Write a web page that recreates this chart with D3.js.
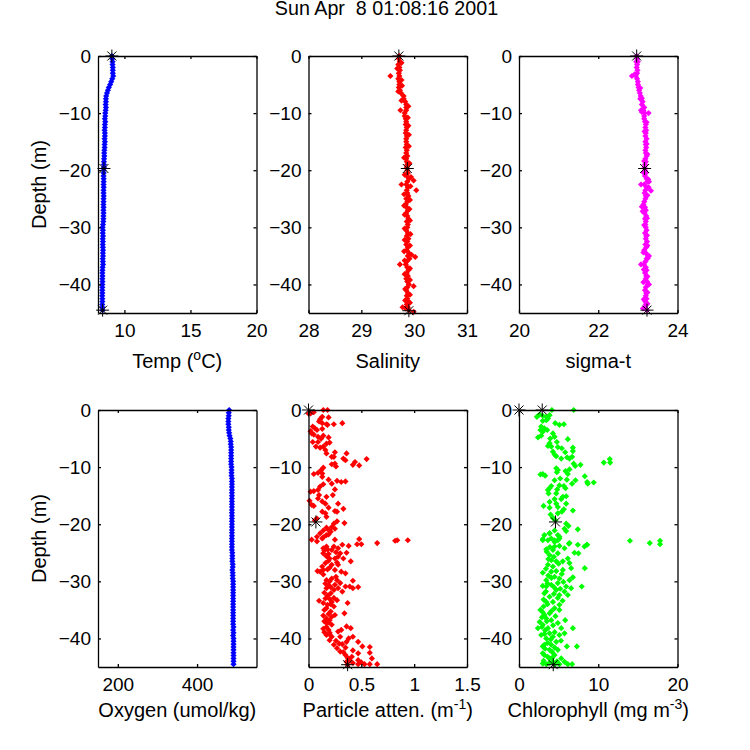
<!DOCTYPE html>
<html>
<head>
<meta charset="utf-8">
<script src="https://cdn.jsdelivr.net/npm/d3@7"></script>
<style>
  body { margin: 0; background: #fff; }
  text { font-family: "Liberation Sans", Arial, sans-serif; fill: #000; }
</style>
</head>
<body>
<svg id="chart" width="750" height="750"></svg>
<script>
// depth of the four continuous profiles (m)
const profileDepth = [0,-0.5,-1,-1.5,-2,-2.5,-3,-3.5,-4,-4.5,-5,-5.5,-6,-6.5,-7,-7.5,-8,-8.5,-9,-9.5,
  -10,-10.5,-11,-11.5,-12,-12.5,-13,-13.5,-14,-14.5,-15,-15.5,-16,-16.5,-17,-17.5,-18,-18.5,-19,-19.5,
  -20,-20.5,-21,-21.5,-22,-22.5,-23,-23.5,-24,-24.5,-25,-25.5,-26,-26.5,-27,-27.5,-28,-28.5,-29,-29.5,
  -30,-30.5,-31,-31.5,-32,-32.5,-33,-33.5,-34,-34.5,-35,-35.5,-36,-36.5,-37,-37.5,-38,-38.5,-39,-39.5,
  -40,-40.5,-41,-41.5,-42,-42.5,-43,-43.5,-44,-44.5];

const tempValues = [9.05,9.08,9.1,9.1,9.12,9.12,9.12,9.15,9.08,9.0,8.92,8.82,8.75,8.68,8.62,8.6,8.6,8.58,8.6,8.58,
  8.55,8.55,8.52,8.55,8.52,8.52,8.5,8.52,8.52,8.5,8.52,8.5,8.5,8.48,8.47,8.48,8.46,8.45,8.45,8.45,
  8.43,8.43,8.42,8.43,8.43,8.42,8.43,8.42,8.42,8.43,8.42,8.42,8.41,8.42,8.41,8.42,8.41,8.41,8.4,8.38,
  8.35,8.37,8.36,8.38,8.36,8.37,8.36,8.37,8.38,8.37,8.38,8.36,8.37,8.38,8.35,8.34,8.33,8.34,8.33,8.34,
  8.33,8.33,8.32,8.33,8.32,8.33,8.33,8.32,8.33,8.35];

const salinityValues = [29.72,29.71,29.73,29.7,29.72,29.73,29.71,29.72,29.7,29.72,29.72,29.71,29.73,29.75,29.8,29.8,29.83,29.85,29.85,29.85,
  29.82,29.82,29.84,29.85,29.84,29.86,29.85,29.84,29.86,29.85,29.85,29.86,29.84,29.86,29.85,29.87,29.85,29.86,29.87,29.86,
  29.87,29.88,29.86,29.9,29.87,29.85,29.88,29.86,29.87,29.89,29.85,29.87,29.84,29.86,29.88,29.85,29.87,29.89,29.86,29.88,
  29.87,29.85,29.88,29.86,29.89,29.87,29.85,29.88,29.86,29.9,29.88,29.91,29.86,29.84,29.87,29.89,29.86,29.88,29.85,29.87,
  29.9,29.87,29.85,29.88,29.86,29.87,29.89,29.86,29.88,29.9];
const salinityExtra = [[-3.5,29.55],[-9.5,29.74],[-22.5,29.76],[-23.5,30.04],[-21.8,29.99],[-35.2,30.02],[-36.5,29.73],[-40.3,29.99],[-44,29.78],[-44.8,29.99],
  [-1.2,29.76],[-2.2,29.68],[-4.2,29.76],[-5.2,29.77],[-6.2,29.7],[-7.8,29.76],[-8.8,29.89],[-10.8,29.88],[-12.2,29.89],[-13.8,29.9],
  [-15.8,29.9],[-17.8,29.81],[-18.8,29.91],[-20.8,29.82],[-21.2,29.94],[-22.8,29.93],[-24.2,29.81],[-25.2,29.92],[-26.2,29.81],[-26.8,29.91],
  [-27.8,29.82],[-28.8,29.92],[-30.2,29.82],[-31.2,29.93],[-32.2,29.82],[-33.2,29.92],[-34.2,29.81],[-34.8,29.95],[-35.8,29.82],[-37.2,29.92],
  [-38.2,29.82],[-39.2,29.92],[-40.8,29.83],[-41.8,29.92],[-42.8,29.83],[-43.2,29.92],[-44.2,29.84]];

const sigmaValues = [22.97,22.98,22.96,22.98,22.97,22.99,22.98,22.95,22.98,23.0,23.0,23.02,23.03,23.05,23.07,23.06,23.12,23.1,23.16,23.14,
  23.17,23.16,23.16,23.18,23.2,23.19,23.21,23.2,23.19,23.22,23.19,23.2,23.21,23.19,23.2,23.22,23.19,23.2,23.18,23.17,
  23.18,23.2,23.18,23.22,23.24,23.16,23.22,23.19,23.17,23.2,23.19,23.16,23.14,23.18,23.2,23.17,23.21,23.18,23.2,23.19,
  23.2,23.22,23.18,23.21,23.2,23.23,23.19,23.21,23.16,23.2,23.25,23.22,23.19,23.15,23.2,23.22,23.18,23.21,23.2,23.23,
  23.25,23.2,23.18,23.21,23.2,23.22,23.19,23.2,23.18,23.23];
const sigmaExtra = [[-3.5,22.85],[-3.2,22.92],[-9.5,23.08],[-9.8,23.1],[-10,23.27],[-22,23.28],[-21.6,23.26],[-22.5,23.08],[-23.6,23.33],[-23,23.27],
  [-35,23.28],[-35.4,23.25],[-36.5,23.08],[-40,23.28],[-44.2,23.13],[-1,23.0],[-5.6,23.06],[-7.4,23.1],[-11.6,23.22],[-13.2,23.17],
  [-15.4,23.22],[-17.2,23.24],[-18.4,23.16],[-20.4,23.14],[-24.4,23.24],[-26.4,23.1],[-27.2,23.12],[-28.4,23.23],[-29.6,23.16],[-31.4,23.23],
  [-33.2,23.24],[-34.4,23.14],[-37.4,23.15],[-38.6,23.24],[-39.6,23.14],[-41.4,23.24],[-42.6,23.15],[-43.4,23.24]];

const oxygenValues = [481,480,480,479,479,479,480,480,481,482,484,485,485,486,486,486,486,486,486,486,
  487,487,487,487,488,488,488,488,488,488,488,488,488,488,488,488,488,488,488,488,
  488,488,488,488,488,488,488,488,488,488,489,489,489,489,490,490,489,490,490,490,
  491,491,491,491,491,491,491,491,491,491,491,491,491,491,491,491,492,491,492,491,
  492,492,492,492,492,492,492,492,492,492];

// [depth, value] samples of the two scattered profiles
const particleSamples = [[-0.6,0],[-0.6,0.02],[-0.4,0.05],[0,0.14],[0,0.18],[-1.3,0.19],[-1.2,0.13],[-1.6,0.11],[-2,0.1],[-2.3,0.13],
  [-2.5,0.17],[-2.6,0.18],[-2.5,0.24],[-2.3,0.32],[-2.9,0.04],[-3.2,0.06],[-3.7,0.02],[-4.1,0.03],[-4.3,0.05],[-3.5,0.08],
  [-3.3,0.13],[-4.7,0.09],[-5,0.12],[-4.5,0.14],[-4.8,0.19],[-5.6,0.04],[-5.6,0.09],[-5.9,0.17],[-5.7,0.2],[-6.4,0.07],
  [-6.6,0.11],[-6.4,0.14],[-7,0.16],[-7.6,0.17],[-7.4,0.25],[-7.6,0.36],[-8.2,0.22],[-8.2,0.24],[-8.5,0.33],[-8.8,0.35],
  [-8.6,0.55],[-9.1,0.44],[-9.6,0.42],[-9.7,0.48],[-9.5,0.22],[-9.4,0.25],[-9.9,0.26],[-10.1,0.14],[-10.5,0.12],[-11,0.09],
  [-11.2,0.05],[-11.1,0.13],[-11.7,0.13],[-12.2,0.19],[-12.9,0.22],[-12.4,0.27],[-12.6,0.31],[-12.5,0.35],[-13,0.14],[-13.4,0.11],
  [-14,0.09],[-14.2,0.05],[-14.3,0.02],[-13.9,0.25],[-14.9,0.23],[-15.2,0.17],[-14.9,0.1],[-15.5,0.09],[-16,0.13],[-16.4,0.16],
  [-15.9,0.01],[-16.6,0.03],[-16.8,0.05],[-17.1,0.19],[-16.4,0.28],[-17.3,0.33],[-17.7,0.25],[-17.8,0.27],[-17.8,0.13],[-18.1,0.16],
  [-18.7,0.17],[-19,0.08],[-19.3,0.06],[-19.9,0.24],[-19.5,0.27],[-19.8,0.34],[-20.5,0.22],[-21.3,0.21],[-20.8,0.25],[-21.1,0.14],
  [-21.6,0.11],[-22.2,0.08],[-22.7,0.03],[-22.5,0.13],[-21.9,0.17],[-22.7,0.25],[-22.6,0.48],[-23.5,0.46],[-23.5,0.5],[-23.3,0.65],
  [-22.9,0.82],[-22.8,0.84],[-22.8,0.94],[-23.6,0.32],[-23.8,0.38],[-24.2,0.14],[-23.9,0.17],[-23.9,0.24],[-24.2,0.28],[-25,0.36],
  [-25.1,0.14],[-25.2,0.19],[-24.5,0.22],[-25.1,0.3],[-26,0.25],[-26,0.2],[-26,0.33],[-26.5,0.4],[-26.8,0.16],[-27.4,0.13],
  [-28.3,0.11],[-28.2,0.085],[-28,0.14],[-27.1,0.22],[-27.1,0.28],[-28,0.25],[-28.3,0.31],[-28.6,0.35],[-29.8,0.17],[-29.5,0.22],
  [-29.8,0.27],[-30.3,0.3],[-29.9,0.42],[-30.6,0.25],[-30.9,0.35],[-30.9,0.39],[-31,0.47],[-31.2,0.42],[-31.2,0.17],[-31.5,0.24],
  [-31.2,0.28],[-31.8,0.32],[-32.1,0.21],[-33,0.16],[-33.4,0.1],[-33.8,0.14],[-33.6,0.22],[-33.3,0.27],[-33.8,0.37],[-34.7,0.17],
  [-34.4,0.24],[-35.3,0.21],[-35.6,0.34],[-36.5,0.17],[-36.2,0.22],[-35.9,0.25],[-37.3,0.17],[-37.6,0.22],[-38.5,0.19],[-39.4,0.17],
  [-39.7,0.22],[-38.8,0.28],[-38.5,0.31],[-37.9,0.36],[-38.2,0.4],[-39.7,0.3],[-40,0.38],[-39.7,0.42],[-40.6,0.36],[-40.6,0.47],
  [-41.1,0.24],[-41.7,0.27],[-42.3,0.3],[-42.9,0.35],[-41.4,0.51],[-41.5,0.58],[-42.5,0.58],[-42.6,0.47],[-43.5,0.6],[-43.8,0.39],
  [-43.8,0.47],[-44.1,0.36],[-44.6,0.37],[-44.5,0.47],[-44.5,0.53],[-44.5,0.58],[-44.5,0.65],
  [-24.6,0.15],[-25.6,0.17],[-26.4,0.19],[-26.7,0.27],[-27.6,0.2],[-24.9,0.26],[-25.7,0.28],[-27.9,0.18],[-30,0.2],[-30.4,0.16],
  [-31,0.21],[-32.5,0.18],[-32.9,0.24],[-33.1,0.2],[-34.1,0.18],[-35,0.15],[-35.7,0.19],[-36.8,0.2],[-37,0.15],[-38,0.17],
  [-38.9,0.15],[-39,0.2],[-40.3,0.2],[-40.4,0.26],[-41.6,0.35],[-41,0.32],[-43.2,0.41],[-42.1,0.42],[-44.2,0.5],[-44.3,0.42],
  [-23,0.08],[-22.3,0.14],[-21.8,0.19],[-21,0.19],[-20.6,0.17],[-24.4,0.18],[-28.8,0.14],[-29.2,0.26],[-30.7,0.19],[-32,0.15],
  [-34,0.21],[-36,0.14],[-37.2,0.19],[-38.3,0.14],[-39.3,0.2],[-40.9,0.29],[-42.4,0.33],[-43.4,0.37]];

const chlorophyllSamples = [[0,4.15],[0,6.9],[-1.2,2.26],[-0.8,2.6],[-1,3],[-1.2,3.44],[-0.9,3.86],[-1.9,3],[-1.8,3.44],[-1.5,3.65],
  [-2.3,4.57],[-2.6,5.1],[-2.5,5.66],[-2.9,2.8],[-3.2,3.2],[-3.5,3.56],[-3.5,2.7],[-3.8,3],[-4.8,2.4],[-4.5,2.8],
  [-4.1,4.28],[-4.7,4.49],[-5,3.94],[-5.1,6.16],[-5.6,4.78],[-5.8,3.86],[-6.3,3.65],[-6.4,4.07],[-6.5,4.9],[-6.7,5.4],
  [-6.6,6.8],[-7.2,6.8],[-7.3,4.28],[-7.8,4.49],[-7.4,5.83],[-8.1,4.7],[-8.5,5.33],[-8.3,6.08],[-8.5,6.37],[-8.2,6.7],
  [-9.2,10.7],[-8.6,11.45],[-9.2,11.5],[-9.4,6.9],[-9.8,7.1],[-9.6,7.76],[-10.2,4.7],[-10.5,4.9],[-10.7,5.87],[-10.4,6.37],
  [-10.9,4.78],[-11.2,6.16],[-11.3,2.7],[-11.2,3],[-11.5,3.3],[-11.6,8.3],[-12,5.2],[-12.3,4.49],[-12.2,6.04],[-12.3,7.13],
  [-12.9,6.7],[-12.6,8.6],[-12.9,8.68],[-12.7,9.43],[-13.3,4.07],[-13.7,3.86],[-14,3.65],[-14.6,3.73],[-13.2,5.1],[-13.3,5.66],
  [-13.7,5.87],[-13.9,4.82],[-14.6,4.7],[-15.2,5.53],[-15.1,5.95],[-15.6,5.33],[-15.6,4.49],[-16.1,3.86],[-16.4,4.7],[-16.4,5.95],
  [-16.8,3.1],[-17.1,3.86],[-17,4.9],[-17.4,5.66],[-17.6,6.8],[-17.8,5.4],[-18.3,3.98],[-18.1,4.9],[-18.9,4.28],[-19.3,4.6],
  [-19.9,5.95],[-20.3,6.25],[-20.8,5.74],[-21.2,5.95],[-20.9,7.42],[-21.1,4.49],[-21.6,3.86],[-21.9,3.2],[-22.6,3],[-21.9,4.9],
  [-22.5,5.1],[-22.5,4.07],[-23.1,4.49],[-22.9,14],[-23.4,6.3],[-23.6,8.55],[-22.8,3],[-21.6,3.86],[-22.2,5.1],[-22.8,3.65],
  [-22.8,4.49],[-22.8,4.9],[-23.3,16.5],[-22.9,17.8],[-23.5,17.8],[-23.3,6.37],[-23.6,7.42],[-23.6,8.6],[-23.9,8.26],[-24.4,3.44],
  [-23.9,4.49],[-23.8,5.1],[-24.5,4.28],[-25.1,4.9],[-25.4,3.86],[-24.2,5.74],[-25,7],[-25.1,7.5],[-26,6.16],[-26.5,5.53],
  [-26.3,4.07],[-26.5,4.7],[-27.1,3.65],[-27.4,4.28],[-26.8,6.37],[-27.7,6.58],[-27.7,8.3],[-28.5,3],[-29.8,3.44],[-28.3,4.07],
  [-29.2,4.49],[-29.5,5.1],[-28,5.53],[-29.3,6.8],[-29.8,6.37],[-30.8,3],[-30.9,3.44],[-30.9,7.92],[-30.6,4.07],[-30.3,4.9],
  [-31.5,4.7],[-30.9,5.95],[-31.2,6.58],[-32.4,6.16],[-32.1,3.2],[-32.7,3.86],[-32.4,5.1],[-31.8,5.74],[-33.6,3.44],[-33.6,4.28],
  [-34.1,5.1],[-34.7,4.49],[-35,2.7],[-35.9,3.2],[-35.6,3.86],[-35,5.1],[-36.5,3.44],[-36.8,4.07],[-37.1,2.6],[-38.2,2.39],
  [-37.6,3],[-38.2,3.65],[-36.8,5.83],[-37.3,4.9],[-38.2,6.8],[-38.2,5.33],[-39.4,2.8],[-39.1,3.86],[-39.7,4.28],[-39.4,5.1],
  [-39.1,5.74],[-40,3.44],[-40.6,4.7],[-41.1,3.2],[-41.1,4.07],[-41.4,3],[-41.4,6.04],[-41.4,7.3],[-42,3.86],[-42,4.9],
  [-42.9,3.2],[-42.9,4.49],[-43.5,5.33],[-44.4,3],[-44.5,3.44],[-44.1,4.28],[-44.5,5.1],[-44.1,5.74],[-44.5,6.16],[-44.5,6.7],
  [-43.5,3.86],[-24,3.9],[-24.8,3.5],[-25.7,4.4],[-26.1,3.7],[-26.9,5],[-27.8,3.4],[-28.2,4.7],[-28.7,5.4],[-29,3.7],
  [-29.4,4.1],[-30.1,5.6],[-30.4,3.6],[-31,4.4],[-31.3,5.2],[-31.8,3.4],[-32.2,4.4],[-32.9,4.9],[-33.2,3.1],[-33.4,5.5],
  [-34,3.6],[-34.4,3.1],[-35.2,4.1],[-35.4,3],[-36.1,4.6],[-36.3,2.9],[-37,3.5],[-37.7,4.3],[-38,2.9],[-38.6,3.3],
  [-38.9,4.5],[-39.2,3.2],[-40.2,4],[-40.4,5.3],[-40.8,3.6],[-41.6,4.5],[-41.8,3.3],[-42.4,4.2],[-42.6,3],[-43.2,3.6],
  [-43.4,4.2],[-43.9,3.1],[-44,4.8],[-44.3,3.8],[-44.5,4.5]];

// black asterisks: [depth, value]
const tempStars = [[0,9.05],[-19.7,8.45],[-44.5,8.35]];
const salinityStars = [[0,29.71],[-19.7,29.87],[-44.6,29.9]];
const sigmaStars = [[0,22.97],[-19.7,23.17],[-44.5,23.23]];
const particleStars = [[0,0],[-19.6,0.07],[-44.6,0.37]];
const chlorophyllStars = [[0,0],[0,2.93],[-19.6,4.6],[-44.6,4.32]];

const depthTicks = [0,-10,-20,-30,-40];
const tempTicks = [10,15,20];
const salinityTicks = [28,29,30,31];
const sigmaTicks = [20,22,24];
const oxygenTicks = [200,400];
const particleTicks = [0,0.5,1,1.5];
const chlorophyllTicks = [0,10,20];

const pairs = vals => vals.map((v, i) => [profileDepth[i], v]);

const panels = [
  { col: 0, row: 0, domain: [8,20], ticks: tempTicks, color: "#0000ff", samples: pairs(tempValues), stars: tempStars, label: ["Temp (", "o", "C)"] },
  { col: 1, row: 0, domain: [28,31], ticks: salinityTicks, color: "#ff0000", samples: pairs(salinityValues).concat(salinityExtra), stars: salinityStars, label: ["Salinity"] },
  { col: 2, row: 0, domain: [20,24], ticks: sigmaTicks, color: "#ff00ff", samples: pairs(sigmaValues).concat(sigmaExtra), stars: sigmaStars, label: ["sigma-t"] },
  { col: 0, row: 1, domain: [150,550], ticks: oxygenTicks, color: "#0000ff", samples: pairs(oxygenValues), stars: [], label: ["Oxygen (umol/kg)"] },
  { col: 1, row: 1, domain: [0,1.5], ticks: particleTicks, color: "#ff0000", samples: particleSamples, stars: particleStars, label: ["Particle atten. (m", "-1", ")"] },
  { col: 2, row: 1, domain: [0,20], ticks: chlorophyllTicks, color: "#00ff00", samples: chlorophyllSamples, stars: chlorophyllStars, label: ["Chlorophyll (mg m", "-3", ")"] }
];

const colX = [98, 308.5, 519], rowY = [56, 410];
const w = 158.5, h = 257;

const svg = d3.select("#chart");

svg.append("text").attr("x", 386.5).attr("y", 15)
  .attr("text-anchor", "middle").attr("font-size", 19.7).attr("xml:space", "preserve")
  .text("Sun Apr  8 01:08:16 2001");

const dot = d3.symbol().type(d3.symbolSquare).size(19)();
const star = "M-6.5,0H6.5M0,-6.5V6.5M-4.5,-4.5L4.5,4.5M-4.5,4.5L4.5,-4.5";

panels.forEach(p => {
  const g = svg.append("g").attr("transform", `translate(${colX[p.col]},${rowY[p.row]})`);
  const x = d3.scaleLinear().domain(p.domain).range([0, w]);
  const y = d3.scaleLinear().domain([0, -45]).range([0, h]);

  g.selectAll("path.pt").data(p.samples).join("path")
    .attr("class", "pt")
    .attr("d", dot)
    .attr("fill", p.color)
    .attr("transform", d => `translate(${x(d[1])},${y(d[0])}) rotate(45)`);

  // box with inward ticks on all four sides
  const axes = [
    d3.axisBottom(x).tickValues(p.ticks).tickFormat(d3.format("")).tickSizeOuter(0).tickSizeInner(-3).tickPadding(11),
    d3.axisTop(x).tickValues(p.ticks).tickFormat("").tickSizeOuter(0).tickSizeInner(-3),
    d3.axisLeft(y).tickValues(depthTicks).tickFormat(d3.format("")).tickSizeOuter(0).tickSizeInner(-3).tickPadding(7),
    d3.axisRight(y).tickValues(depthTicks).tickFormat("").tickSizeOuter(0).tickSizeInner(-3)
  ];
  const place = [`translate(0,${h})`, null, null, `translate(${w},0)`];
  axes.forEach((a, i) => {
    const ag = g.append("g").attr("transform", place[i]).call(a);
    ag.selectAll("text").attr("font-size", 19).attr("fill", "#000");
    ag.selectAll("path,line").attr("stroke", "#000").attr("stroke-width", 1.3);
  });

  g.selectAll("path.star").data(p.stars).join("path")
    .attr("class", "star")
    .attr("d", star)
    .attr("fill", "none").attr("stroke", "#000").attr("stroke-width", 1)
    .attr("transform", d => `translate(${x(d[1])},${y(d[0])})`);

  const t = g.append("text").attr("x", w / 2).attr("y", h + (p.row ? 50 : 55))
    .attr("text-anchor", "middle").attr("font-size", 20);
  p.label.forEach((s, i) => {
    const ts = t.append("tspan").text(s);
    if (i === 1) ts.attr("dy", -8).attr("font-size", 14);
    if (i === 2) ts.attr("dy", 8);
  });

  if (p.col === 0) {
    g.append("text").attr("transform", `translate(-52,${h / 2}) rotate(-90)`)
      .attr("text-anchor", "middle").attr("font-size", 20).text("Depth (m)");
  }
});
</script>
</body>
</html>
